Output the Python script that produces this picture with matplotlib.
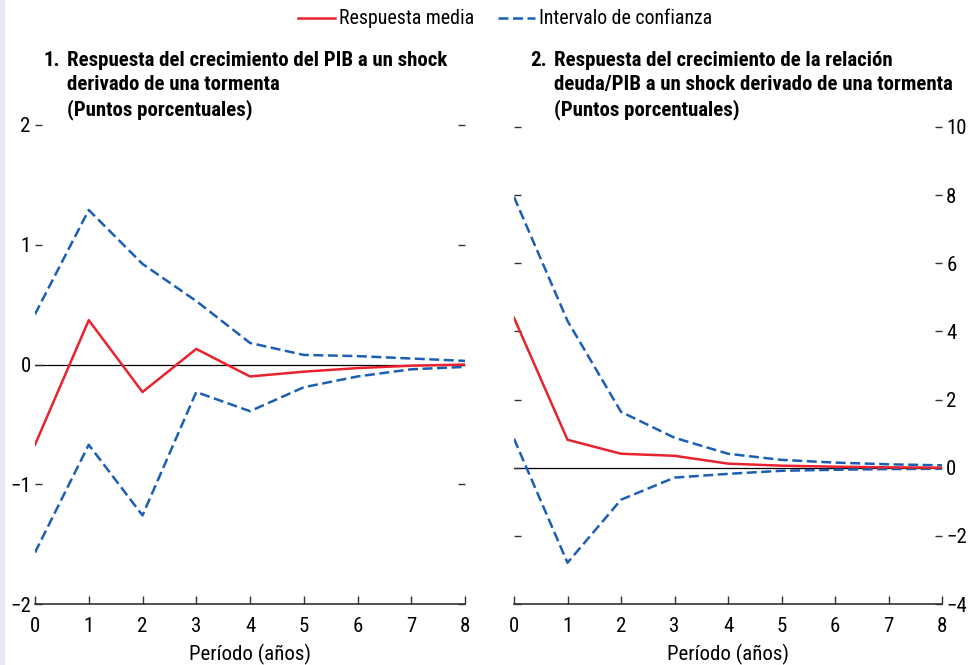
import matplotlib
matplotlib.use("Agg")
import matplotlib.pyplot as plt
from matplotlib.lines import Line2D
from matplotlib.patches import Rectangle

plt.rcParams['font.family'] = ['Roboto Condensed', 'DejaVu Sans']

periods = [0, 1, 2, 3, 4, 5, 6, 7, 8]

# Panel 1: GDP growth response (percentage points)
gdp_mean = [-0.67, 0.37, -0.23, 0.13, -0.10, -0.06, -0.03, -0.01, 0.0]
gdp_upper = [0.42, 1.29, 0.84, 0.53, 0.18, 0.08, 0.07, 0.05, 0.03]
gdp_lower = [-1.57, -0.67, -1.26, -0.23, -0.39, -0.19, -0.10, -0.04, -0.02]

# Panel 2: debt/GDP growth response (percentage points)
debt_mean = [4.40, 0.82, 0.41, 0.35, 0.12, 0.06, 0.03, 0.01, 0.0]
debt_upper = [7.95, 4.31, 1.64, 0.88, 0.41, 0.23, 0.15, 0.10, 0.07]
debt_lower = [0.85, -2.79, -0.94, -0.29, -0.18, -0.09, -0.06, -0.04, -0.03]

gdp_ticks = [-2, -1, 0, 1, 2]
debt_ticks = [-4, -2, 0, 2, 4, 6, 8, 10]

title1 = "Respuesta del crecimiento del PIB a un shock\nderivado de una tormenta\n(Puntos porcentuales)"
title2 = "Respuesta del crecimiento de la relación\ndeuda/PIB a un shock derivado de una tormenta\n(Puntos porcentuales)"

RED = '#e8232f'
BLUE = '#1b5fb4'
FS = 15
TFS = 15
LW = 1.8
DASH = (0, (4, 1.8))

W, H = 972, 665
fig = plt.figure(figsize=(W / 100, H / 100), dpi=100)
fig.patches.append(Rectangle((0, 0), 4 / W, 1, transform=fig.transFigure,
                             color='#ebe8f1', zorder=0))


def px_axes(x0, x1, y0, y1):
    return fig.add_axes([x0 / W, 1 - y1 / H, (x1 - x0) / W, (y1 - y0) / H])


def style(ax, ylim, yticks, label_right):
    ax.set_xlim(0, 8)
    ax.set_ylim(*ylim)
    ax.set_xticks(periods)
    ax.set_yticks(yticks)
    ax.set_yticklabels([str(t).replace('-', '\u2212') for t in yticks])
    for s in ('top', 'left', 'right'):
        ax.spines[s].set_visible(False)
    ax.spines['bottom'].set_color('#333333')
    ax.spines['bottom'].set_linewidth(1.2)
    ax.tick_params(axis='x', direction='in', length=6, width=1, color='#333333',
                   labelsize=FS, pad=9)
    ax.tick_params(axis='y', direction='in', length=5, width=1, color='#333333',
                   labelsize=FS, pad=3, left=True, right=True,
                   labelleft=not label_right, labelright=label_right)
    ax.axhline(0, color='black', lw=0.9, zorder=1)
    ax.set_xlabel('Período (años)', fontsize=FS, labelpad=6)
    ax.patch.set_alpha(0)


ax1 = px_axes(35, 465, 125, 604)
ax1.plot(periods, gdp_upper, color=BLUE, lw=LW, ls=DASH, zorder=3)
ax1.plot(periods, gdp_lower, color=BLUE, lw=LW, ls=DASH, zorder=3)
ax1.plot(periods, gdp_mean, color=RED, lw=LW, zorder=4)
style(ax1, (-2, 2), gdp_ticks, False)

ax2 = px_axes(514, 942, 127, 604)
ax2.plot(periods, debt_upper, color=BLUE, lw=LW, ls=DASH, zorder=3)
ax2.plot(periods, debt_lower, color=BLUE, lw=LW, ls=DASH, zorder=3)
ax2.plot(periods, debt_mean, color=RED, lw=LW, zorder=4)
style(ax2, (-4, 10), debt_ticks, True)

# Panel titles
fig.text(43 / W, 1 - 51 / H, '1.', fontsize=TFS, fontweight='bold', va='top')
fig.text(67 / W, 1 - 51 / H, title1, fontsize=TFS, fontweight='bold', va='top',
         linespacing=1.33)
fig.text(530 / W, 1 - 51 / H, '2.', fontsize=TFS, fontweight='bold', va='top')
fig.text(554 / W, 1 - 51 / H, title2, fontsize=TFS, fontweight='bold', va='top',
         linespacing=1.33)

# Legend
handles = [Line2D([], [], color=RED, lw=LW),
           Line2D([], [], color=BLUE, lw=LW, ls=DASH)]
fig.legend(handles, ['Respuesta media', 'Intervalo de confianza'],
           loc='center', bbox_to_anchor=(505 / W, 1 - 19 / H), ncol=2, frameon=False,
           fontsize=14.3, handlelength=1.85, handletextpad=0.2, columnspacing=1.2)

fig.savefig('out.png', dpi=100)
